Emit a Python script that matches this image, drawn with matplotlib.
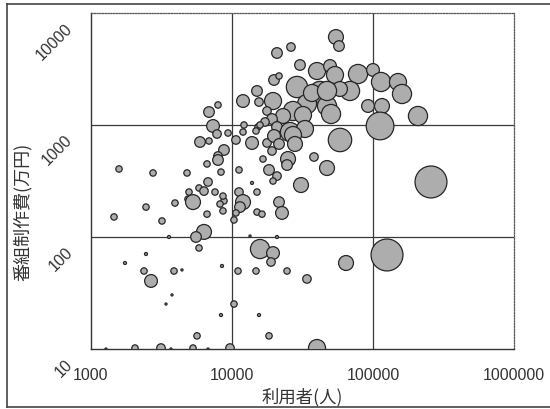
import matplotlib
matplotlib.use("Agg")
import matplotlib.pyplot as plt
import matplotlib.transforms as mtransforms
import numpy as np

# 利用者(人), 番組制作費(万円), bubble weight (third variable)
users = [54600, 57400, 26200, 20850, 30350, 40080, 49570, 53750, 78310, 100000,
         114000, 150400, 160600, 19860, 21550, 15040, 28890, 42110, 68710, 58330,
         15540, 19540, 11970, 34010, 47190, 27070, 23010, 31870, 50380, 92180,
         115800, 208500, 17710, 19220, 17140, 15290, 20850, 25780, 32920, 7955,
         6870, 7334, 12160, 15800, 112200, 58330, 36920, 47190,
         9370, 7830, 10670, 14800, 11970, 13870, 17710, 19860, 21550, 19220,
         27070, 27970, 24970, 24570, 38150, 47190, 18300, 20850, 19540, 16590,
         11210, 13870, 15040, 30850, 11210, 11970, 11390, 10670, 8770, 8630,
         21550, 22620, 15040, 16320, 10330, 5930, 6870, 8770, 7955, 7955,
         6650, 8356, 1580, 2753, 4797, 6760, 5834, 6329, 4955, 7576,
         8630, 4875, 5290, 3942, 2455, 1456, 3188, 6650, 8222, 6329,
         5556, 5834, 3573, 2455, 1742, 2376, 3878, 4418, 8492, 11030,
         2665, 3753, 3403, 10330, 8356, 5647, 1277, 2051, 3137, 3691,
         5290, 6760, 9680, 15800, 19540, 18910, 14800, 24570, 34010, 15540,
         18300, 13420, 20850, 125700, 64380, 40080, 257800]
costs = [6100, 5070, 4970, 4394, 3433, 3034, 3363, 2795, 2853, 3100,
         2421, 2421, 1892, 2523, 2738, 2013, 2184, 1971, 2013, 2096,
         1604, 1637, 1637, 1540, 1478, 1334, 1203, 1228, 1254, 1478,
         1478, 1203, 1334, 1131, 1064, 960, 960, 866, 921, 1509,
         1306, 980, 1000, 1000, 980, 735, 1931, 2013,
         848, 831, 735, 884, 866, 691, 691, 798, 677, 586,
         814, 677, 497, 439, 518, 413, 397, 350, 316, 497,
         397, 304, 252, 291, 252, 205, 185, 164, 210, 171,
         205, 164, 167, 160, 142, 705, 720, 598, 529, 487,
         449, 380, 405, 373, 373, 310, 274, 257, 252, 252,
         232, 218, 205, 201, 185, 151, 139, 160, 197, 111,
         100, 79.8, 100, 70.5, 58.6, 49.7, 49.7, 50.8, 55.1, 49.7,
         40.5, 30.4, 25.2, 25.2, 20.1, 13.1, 10, 10.2, 10.2, 10,
         10.2, 10, 10.2, 78.1, 71.9, 59.8, 49.7, 49.7, 42.2, 20.1,
         13.1, 102, 100, 69.1, 58.6, 10.2, 310]
weights = [49, 25, 16, 25, 25, 64, 36, 64, 81, 36,
           81, 64, 81, 25, 9, 25, 100, 100, 81, 49,
           16, 64, 36, 81, 81, 81, 49, 64, 81, 36,
           49, 81, 16, 25, 16, 9, 25, 81, 64, 9,
           25, 36, 9, 9, 169, 121, 64, 81,
           9, 16, 16, 9, 9, 36, 16, 36, 25, 16,
           64, 49, 49, 25, 16, 49, 25, 16, 9, 9,
           9, 2, 9, 49, 16, 49, 25, 9, 9, 9,
           25, 36, 9, 9, 9, 25, 9, 25, 16, 25,
           9, 9, 9, 9, 9, 16, 9, 16, 9, 9,
           9, 9, 49, 9, 9, 9, 9, 9, 9, 49,
           25, 9, 2, 2, 2, 9, 9, 1, 2, 9,
           36, 1, 1, 9, 2, 9, 1, 9, 16, 1,
           9, 1, 16, 81, 36, 16, 9, 9, 16, 2,
           9, 1, 2, 225, 49, 64, 225]

x_ticks = [1000, 10000, 100000, 1000000]
x_ticklabels = ["1000", "10000", "100000", "1000000"]
y_ticks = [10, 100, 1000, 10000]
y_ticklabels = ["10", "100", "1000", "10000"]
x_label = "利用者(人)"
y_label = "番組制作費(万円)"

plt.rcParams['font.family'] = ['Liberation Sans', 'Noto Sans CJK JP', 'DejaVu Sans']

fig = plt.figure(figsize=(5.5, 4.1), dpi=100, facecolor='white')
ax = fig.add_axes([91/550, 1-350/410, (514-91)/550, (350-14)/410])
ax.set_xscale('log')
ax.set_yscale('log')
ax.set_xlim(1000, 1000000)
ax.set_ylim(10, 10000)

# grid lines at inner decades
for xv in x_ticks[1:-1]:
    ax.axvline(xv, color='#3a3a3a', lw=0.9, zorder=1)
for yv in y_ticks[1:-1]:
    ax.axhline(yv, color='#3a3a3a', lw=0.9, zorder=1)

s = np.array(weights) * 2.35
ax.scatter(users, costs, s=s, facecolor='#adadad', edgecolor='#262626',
           linewidth=0.9, zorder=3)

ax.set_xticks(x_ticks)
ax.set_xticklabels(x_ticklabels)
ax.set_yticks(y_ticks)
ax.set_yticklabels(y_ticklabels)
ax.minorticks_off()
ax.tick_params(axis='x', length=0, pad=13, labelsize=11.5, labelcolor='#333333')
ax.tick_params(axis='y', length=0, pad=15, labelsize=11.5, labelcolor='#333333')
offset = mtransforms.ScaledTranslation(0, -12/100, fig.dpi_scale_trans)
for lab in ax.get_yticklabels():
    lab.set_rotation(45)
    lab.set_rotation_mode('anchor')
    lab.set_ha('right')
    lab.set_va('center')
    lab.set_transform(lab.get_transform() + offset)

ax.spines['left'].set_color('#333333')
ax.spines['bottom'].set_color('#333333')
ax.spines['left'].set_linewidth(1.0)
ax.spines['bottom'].set_linewidth(1.0)
for sp in ['top', 'right']:
    ax.spines[sp].set_linestyle((0, (1, 1.2)))
    ax.spines[sp].set_color('#555555')
    ax.spines[sp].set_linewidth(0.9)

ax.set_xlabel(x_label, fontsize=12.5, color='#333333', family=['Noto Sans CJK JP', 'DejaVu Sans'])
ax.xaxis.label.set_va('center')
ax.xaxis.set_label_coords(0.5, -0.14)
ax.set_ylabel(y_label, fontsize=13, color='#333333', family=['Noto Sans CJK JP', 'DejaVu Sans'])
ax.yaxis.label.set_va('center')
ax.yaxis.set_label_coords(-0.163, 0.41)

# outer frame
frame_kw = dict(color='#444444', lw=1.2, transform=fig.transFigure)
fig.add_artist(plt.Line2D([7/550, 1], [1-5/410, 1-5/410], **frame_kw))
fig.add_artist(plt.Line2D([7/550, 7/550], [1-5/410, 1-408/410], **frame_kw))
fig.add_artist(plt.Line2D([7/550, 1], [1-408/410, 1-408/410], **frame_kw))

fig.savefig('out.png', dpi=100, facecolor='white')
